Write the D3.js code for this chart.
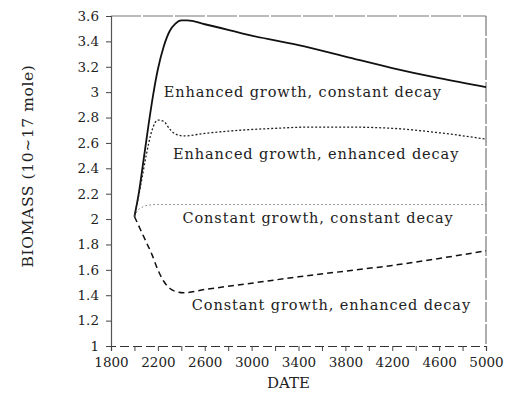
<!DOCTYPE html>
<html>
<head>
<meta charset="utf-8">
<script src="https://cdn.jsdelivr.net/npm/d3@7"></script>
<style>
  body { margin: 0; background: #fff; }
  svg { display: block; }
  text { font-family: "DejaVu Serif", serif; fill: #222; }
</style>
</head>
<body>
<div id="chart"></div>
<script>
// data: [date, biomass]
let enhancedGrowthConstantDecay = [
  [2000, 2.02], [2040, 2.22], [2080, 2.48], [2120, 2.74], [2160, 2.98],
  [2200, 3.18], [2250, 3.36], [2300, 3.48], [2350, 3.54], [2400, 3.565],
  [2450, 3.565], [2600, 3.535], [3000, 3.445], [3400, 3.37], [3800, 3.28],
  [4200, 3.19], [4600, 3.11], [5000, 3.04]
]
let enhancedGrowthEnhancedDecay = [
  [2000, 2.02], [2050, 2.25], [2100, 2.5], [2150, 2.7], [2200, 2.78],
  [2250, 2.77], [2300, 2.71], [2350, 2.67], [2420, 2.655], [2600, 2.675],
  [2900, 2.7], [3200, 2.715], [3500, 2.725], [3800, 2.725], [4200, 2.715],
  [4600, 2.68], [5000, 2.63]
]
let constantGrowthConstantDecay = [
  [2000, 2.02], [2030, 2.07], [2070, 2.095], [2120, 2.11], [2200, 2.115],
  [2600, 2.115], [3400, 2.115], [4200, 2.115], [5000, 2.115]
]
let constantGrowthEnhancedDecay = [
  [2000, 2.02], [2050, 1.92], [2100, 1.82], [2150, 1.72], [2200, 1.6],
  [2250, 1.51], [2300, 1.455], [2350, 1.43], [2420, 1.42], [2600, 1.445],
  [3000, 1.495], [3400, 1.545], [3800, 1.59], [4200, 1.635], [4600, 1.69],
  [5000, 1.75]
]

let xTicks = [1800, 2200, 2600, 3000, 3400, 3800, 4200, 4600, 5000]
let xMinorTicks = d3.range(1800, 5001, 200)
let yTicks = [1, 1.2, 1.4, 1.6, 1.8, 2, 2.2, 2.4, 2.6, 2.8, 3, 3.2, 3.4, 3.6]

let labels = [
  { text: 'Enhanced growth, constant decay', date: 2250, value: 2.96 },
  { text: 'Enhanced growth, enhanced decay', date: 2330, value: 2.47 },
  { text: 'Constant growth, constant decay', date: 2410, value: 1.97 },
  { text: 'Constant growth, enhanced decay', date: 2490, value: 1.28 }
]

let margin = { top: 16, left: 111, right: 26, bottom: 47 }
let width = 512 - margin.left - margin.right
let height = 393 - margin.top - margin.bottom

let svg = d3
  .select('#chart')
  .append('svg')
  .attr('width', 512)
  .attr('height', 393)

let g = svg.append('g').attr('transform', `translate(${margin.left},${margin.top})`)

let xPositionScale = d3.scaleLinear().domain([1800, 5000]).range([0, width])
let yPositionScale = d3.scaleLinear().domain([1, 3.6]).range([height, 0])

let line = d3
  .line()
  .x(d => xPositionScale(d[0]))
  .y(d => yPositionScale(d[1]))
  .curve(d3.curveMonotoneX)

// frame: top and right are faint in the scan
g.append('line')
  .attr('x1', 0).attr('x2', width).attr('y1', 0).attr('y2', 0)
  .attr('stroke', '#777').attr('stroke-width', 1.2).attr('stroke-dasharray', '30 2')
g.append('line')
  .attr('x1', width).attr('x2', width).attr('y1', 0).attr('y2', height)
  .attr('stroke', '#777').attr('stroke-width', 1.2).attr('stroke-dasharray', '20 2')

// y axis
let yAxis = d3.axisLeft(yPositionScale)
  .tickValues(yTicks)
  .tickSize(5)
  .tickPadding(7)
  .tickFormat(d => d3.format('')(+d.toFixed(1)))
g.append('g')
  .attr('class', 'axis y-axis')
  .call(yAxis)

// x axis, minor ticks every 200
let xAxis = d3.axisBottom(xPositionScale)
  .tickValues(xMinorTicks)
  .tickSize(5)
  .tickPadding(6)
  .tickFormat(d => (xTicks.includes(d) ? d : ''))
g.append('g')
  .attr('class', 'axis x-axis')
  .attr('transform', `translate(0,${height})`)
  .call(xAxis)

g.selectAll('.axis text')
  .attr('font-size', 13.5)
  .attr('font-family', '"DejaVu Serif", serif')
  .attr('fill', '#222')
g.selectAll('.axis line').attr('stroke', '#444')
g.selectAll('.y-axis .domain').attr('stroke', '#555').attr('stroke-width', 1.2)
g.selectAll('.x-axis .domain')
  .attr('stroke', '#333')
  .attr('stroke-width', 1.2)
  .attr('stroke-dasharray', '9 4')

// series
g.append('path')
  .datum(enhancedGrowthConstantDecay)
  .attr('d', line)
  .attr('fill', 'none')
  .attr('stroke', '#111')
  .attr('stroke-width', 1.8)

g.append('path')
  .datum(enhancedGrowthEnhancedDecay)
  .attr('d', line)
  .attr('fill', 'none')
  .attr('stroke', '#222')
  .attr('stroke-width', 1.3)
  .attr('stroke-dasharray', '2 2')

g.append('path')
  .datum(constantGrowthConstantDecay)
  .attr('d', line)
  .attr('fill', 'none')
  .attr('stroke', '#777')
  .attr('stroke-width', 1)
  .attr('stroke-dasharray', '1.5 2.5')

g.append('path')
  .datum(constantGrowthEnhancedDecay)
  .attr('d', line)
  .attr('fill', 'none')
  .attr('stroke', '#111')
  .attr('stroke-width', 1.5)
  .attr('stroke-dasharray', '6 4')

// curve labels
g.selectAll('.curve-label')
  .data(labels)
  .enter()
  .append('text')
  .attr('class', 'curve-label')
  .attr('x', d => xPositionScale(d.date))
  .attr('y', d => yPositionScale(d.value))
  .attr('font-size', 14.5)
  .attr('letter-spacing', 0.9)
  .text(d => d.text)

// axis titles
svg.append('text')
  .attr('x', margin.left + width / 2 - 10)
  .attr('y', 388)
  .attr('text-anchor', 'middle')
  .attr('font-size', 15)
  .text('DATE')

svg.append('text')
  .attr('transform', `translate(33,166) rotate(-90)`)
  .attr('text-anchor', 'middle')
  .attr('font-size', 15.5)
  .attr('letter-spacing', 0.6)
  .text('BIOMASS (10~17 mole)')
</script>
</body>
</html>
